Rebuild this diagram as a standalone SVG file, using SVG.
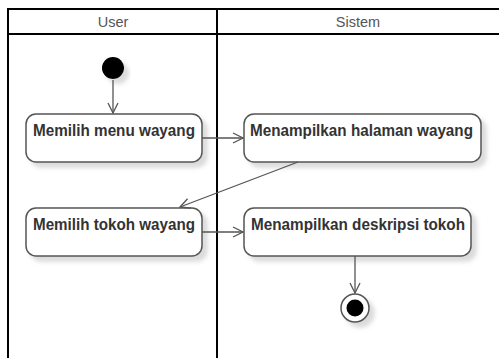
<svg xmlns="http://www.w3.org/2000/svg" width="499" height="358" viewBox="0 0 499 358">
<style>
.lane{fill:none;stroke:#000;stroke-width:2}
.hdr{font-family:"Liberation Sans",Arial,sans-serif;font-size:14.5px;fill:#555;text-anchor:middle}
.box{fill:#fff;stroke:#555;stroke-width:1.5}
.lbl{font-family:"Liberation Sans",Arial,sans-serif;font-size:16px;font-weight:bold;fill:#333;text-anchor:middle}
.edge{fill:none;stroke:#555;stroke-width:1.3}
</style>
<defs>
<marker id="arr" viewBox="0 0 12 12" refX="11" refY="6" markerWidth="12" markerHeight="12" markerUnits="userSpaceOnUse" orient="auto">
<path d="M1,1 L11,6 L1,11" fill="none" stroke="#555" stroke-width="1.3"/>
</marker>
<filter id="sh" x="-20%" y="-20%" width="150%" height="160%">
<feDropShadow dx="5" dy="5" stdDeviation="2" flood-color="#888" flood-opacity="0.3"/>
</filter>
</defs>
<rect x="0" y="0" width="499" height="358" fill="#fff"/>
<g id="lanes">
<path class="lane" d="M8,368 V9 H499 M8,34 H499 M217,9 V368"/>
<text class="hdr" x="113" y="27">User</text>
<text class="hdr" x="358" y="27">Sistem</text>
</g>
<g id="start">
<circle cx="113" cy="68" r="11" fill="#000" filter="url(#sh)"/>
</g>
<g id="n1">
<rect class="box" x="26" y="114" width="176" height="48" rx="10" filter="url(#sh)"/>
<text class="lbl" x="114" y="135.5" textLength="162" lengthAdjust="spacingAndGlyphs">Memilih menu wayang</text>
</g>
<g id="n2">
<rect class="box" x="244" y="114" width="237" height="48" rx="10" filter="url(#sh)"/>
<text class="lbl" x="361.5" y="135.5" textLength="223" lengthAdjust="spacingAndGlyphs">Menampilkan halaman wayang</text>
</g>
<g id="n3">
<rect class="box" x="26" y="208" width="176" height="48" rx="10" filter="url(#sh)"/>
<text class="lbl" x="114" y="229.5" textLength="162" lengthAdjust="spacingAndGlyphs">Memilih tokoh wayang</text>
</g>
<g id="n4">
<rect class="box" x="244" y="208" width="227" height="48" rx="10" filter="url(#sh)"/>
<text class="lbl" x="358" y="229.5" textLength="214" lengthAdjust="spacingAndGlyphs">Menampilkan deskripsi tokoh</text>
</g>
<g id="end">
<circle cx="355" cy="308" r="14" fill="#fff" stroke="#555" stroke-width="1.5" filter="url(#sh)"/>
<circle cx="355" cy="308" r="8.5" fill="#000"/>
</g>
<g id="connectors">
<path class="edge" d="M113,80 V113" marker-end="url(#arr)"/>
<path class="edge" d="M202,138 H243" marker-end="url(#arr)"/>
<path class="edge" d="M298,162 L180,207" marker-end="url(#arr)"/>
<path class="edge" d="M202,232 H243" marker-end="url(#arr)"/>
<path class="edge" d="M355,256 V293" marker-end="url(#arr)"/>
</g>
</svg>
